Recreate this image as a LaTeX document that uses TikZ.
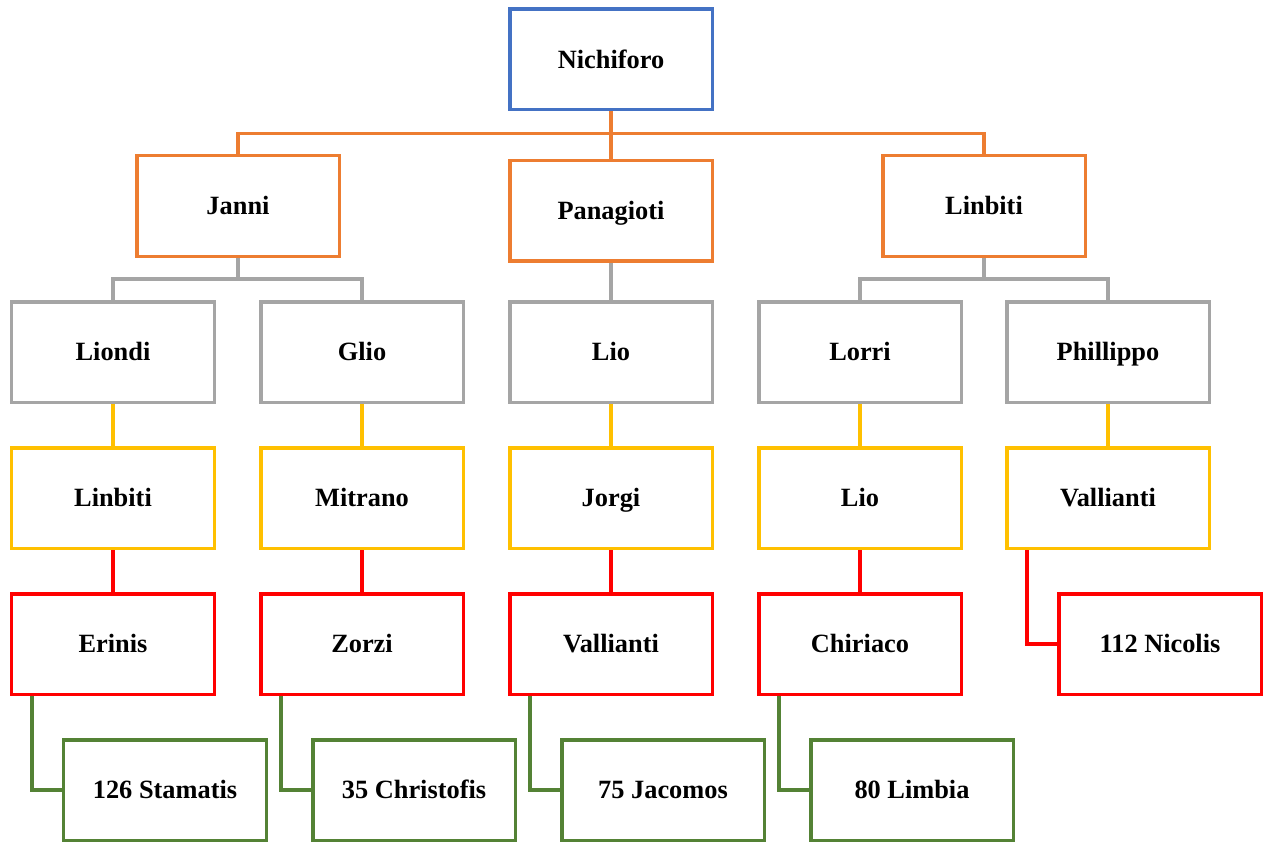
\documentclass[tikz,border=0pt]{standalone}
\usepackage{fontspec}
\setmainfont{Liberation Serif}
\usepackage{xcolor}
\usepackage{tikz}
\usetikzlibrary{shapes,arrows}
\definecolor{boxBlue}{HTML}{4472C4}
\definecolor{boxOrange}{HTML}{ED7D31}
\definecolor{boxGray}{HTML}{A5A5A5}
\definecolor{boxYellow}{HTML}{FFC000}
\definecolor{boxRed}{HTML}{FF0000}
\definecolor{boxGreen}{HTML}{548235}
\tikzstyle{line} = [draw, line width=0.07cm]
\tikzstyle{personBlock} = [draw, rectangle, line width=0.07cm, minimum width=4.05cm,
    minimum height=2.01cm, text height=10.2pt, text depth=0pt,
    font=\fontsize{15}{18}\selectfont\bfseries]
\tikzstyle{rootBlock} = [personBlock, draw=boxBlue]
\tikzstyle{sonBlock} = [personBlock, draw=boxOrange]
\tikzstyle{grandBlock} = [personBlock, draw=boxGray]
\tikzstyle{thirdBlock} = [personBlock, draw=boxYellow]
\tikzstyle{fourthBlock} = [personBlock, draw=boxRed]
\tikzstyle{fifthBlock} = [personBlock, draw=boxGreen]

\begin{document}
\begin{tikzpicture}[node distance = 2.92cm, auto]
      \useasboundingbox (0,0) rectangle (25.28,-16.86);
      % Place nodes
      \node [rootBlock] (nichiforo) at (12.22,-1.19) {Nichiforo};

      \node [sonBlock, below of=nichiforo, node distance=2.93cm, xshift=-7.46cm] (janni) {Janni};
      \node [sonBlock, below of=nichiforo, node distance=3.02cm] (panagioti) {Panagioti};
      \node [sonBlock, below of=nichiforo, node distance=2.93cm, xshift=7.46cm] (linbiti) {Linbiti};

      \node [grandBlock, below of=janni, xshift=-2.5cm] (liondi) {Liondi};
      \node [grandBlock, below of=janni, xshift=2.48cm] (glio) {Glio};
      \node [grandBlock, below of=panagioti, node distance=2.83cm] (lio) {Lio};
      \node [grandBlock, below of=linbiti, xshift=-2.48cm] (lorri) {Lorri};
      \node [grandBlock, below of=linbiti, xshift=2.48cm] (phillippo) {Phillippo};

      \node [thirdBlock, below of=liondi] (linbitiB) {Linbiti};
      \node [thirdBlock, below of=glio] (mitrano) {Mitrano};
      \node [thirdBlock, below of=lio] (jorgi) {Jorgi};
      \node [thirdBlock, below of=lorri] (lioB) {Lio};
      \node [thirdBlock, below of=phillippo] (vallianti) {Vallianti};

      \node [fourthBlock, below of=linbitiB] (erinis) {Erinis};
      \node [fourthBlock, below of=mitrano] (zorzi) {Zorzi};
      \node [fourthBlock, below of=jorgi] (valliantiB) {Vallianti};
      \node [fourthBlock, below of=lioB] (chiriaco) {Chiriaco};
      \node [fourthBlock, below of=vallianti, xshift=1.04cm] (nicolis) {112 Nicolis};

      \node [fifthBlock, below of=erinis, xshift=1.04cm] (stamatis) {126 Stamatis};
      \node [fifthBlock, below of=zorzi, xshift=1.04cm] (christofis) {35 Christofis};
      \node [fifthBlock, below of=valliantiB, xshift=1.04cm] (jacomos) {75 Jacomos};
      \node [fifthBlock, below of=chiriaco, xshift=1.04cm] (limbia) {80 Limbia};

      \coordinate (rootBus) at ([yshift=-0.44cm]nichiforo.south);
      \coordinate (janniBus) at ([yshift=-0.42cm]janni.south);
      \coordinate (linbitiBus) at ([yshift=-0.42cm]linbiti.south);

      \path [line, draw=boxOrange] (nichiforo) -- (panagioti);
      \path [line, draw=boxOrange] (janni) |- (rootBus) -| (linbiti);

      \path [line, draw=boxGray] (janni) -- (janniBus);
      \path [line, draw=boxGray] (liondi) |- (janniBus) -| (glio);
      \path [line, draw=boxGray] (panagioti) -- (lio);
      \path [line, draw=boxGray] (linbiti) -- (linbitiBus);
      \path [line, draw=boxGray] (lorri) |- (linbitiBus) -| (phillippo);

      \path [line, draw=boxYellow] (liondi) -- (linbitiB);
      \path [line, draw=boxYellow] (glio) -- (mitrano);
      \path [line, draw=boxYellow] (lio) -- (jorgi);
      \path [line, draw=boxYellow] (lorri) -- (lioB);
      \path [line, draw=boxYellow] (phillippo) -- (vallianti);

      \path [line, draw=boxRed] (linbitiB) -- (erinis);
      \path [line, draw=boxRed] (mitrano) -- (zorzi);
      \path [line, draw=boxRed] (jorgi) -- (valliantiB);
      \path [line, draw=boxRed] (lioB) -- (chiriaco);
      \path [line, draw=boxRed] ([xshift=-1.62cm]vallianti.south) |- (nicolis);

      \path [line, draw=boxGreen] ([xshift=-1.62cm]erinis.south) |- (stamatis);
      \path [line, draw=boxGreen] ([xshift=-1.62cm]zorzi.south) |- (christofis);
      \path [line, draw=boxGreen] ([xshift=-1.62cm]valliantiB.south) |- (jacomos);
      \path [line, draw=boxGreen] ([xshift=-1.62cm]chiriaco.south) |- (limbia);

\end{tikzpicture}
\end{document}
